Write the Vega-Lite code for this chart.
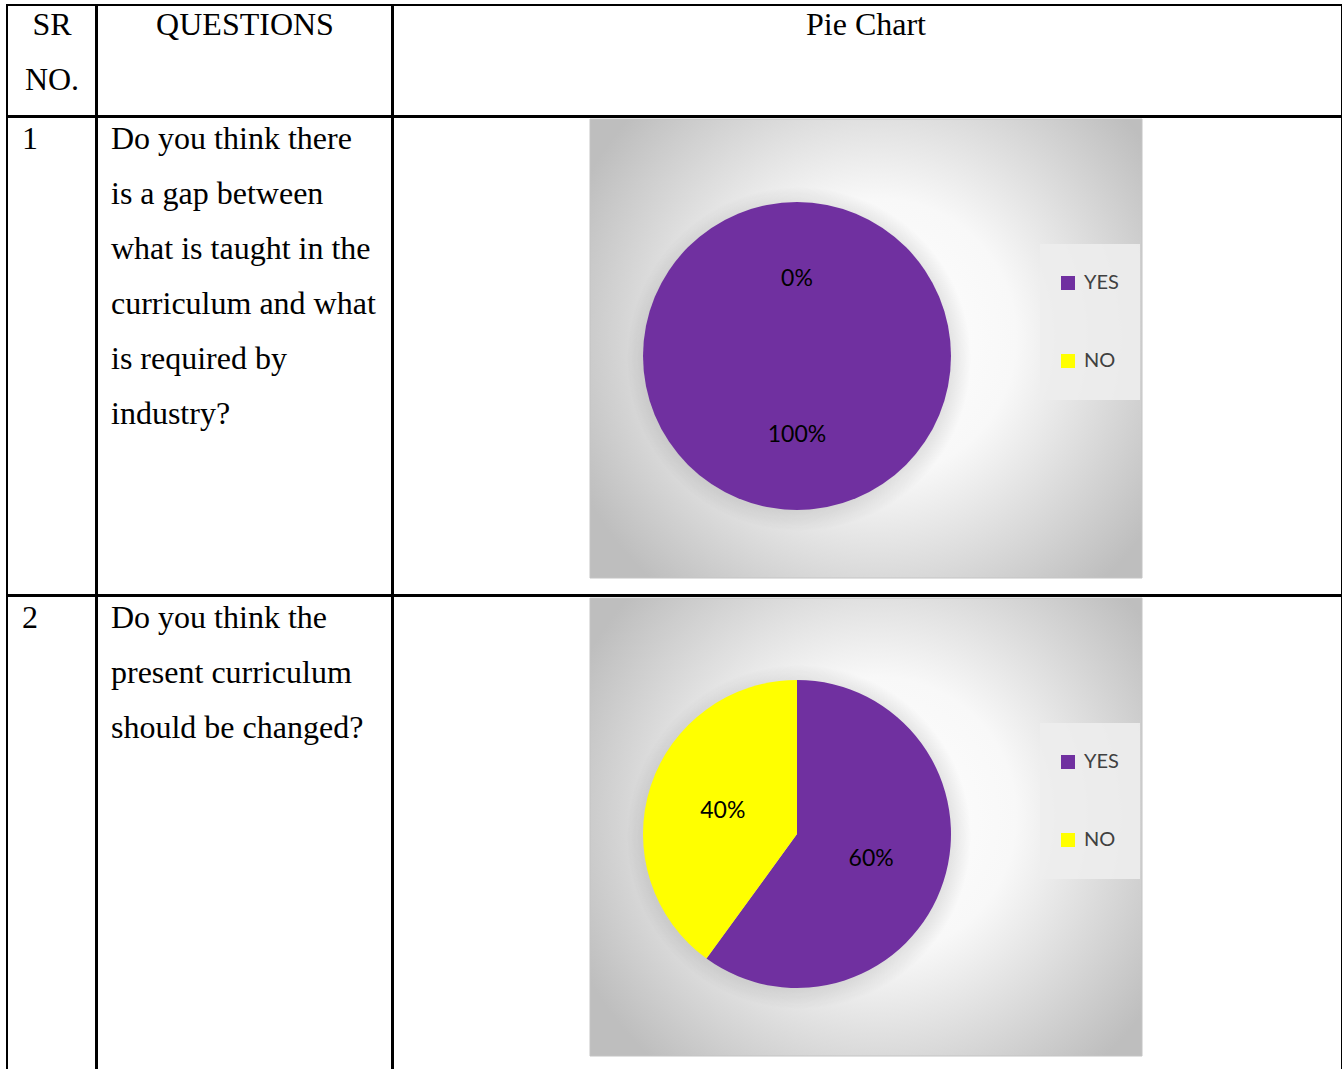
{
  "$schema": "https://vega.github.io/schema/vega-lite/v6.json",
  "padding": {"left": 6, "top": 4, "right": 0, "bottom": 0},
  "background": "white",
  "spacing": -2,
  "resolve": {"scale": {"color": "independent", "theta": "independent"}, "legend": {"color": "independent"}},
  "config": {
    "view": {"stroke": "black", "strokeWidth": 2},
    "concat": {"spacing": -2},
    "text": {"font": "Liberation Serif", "fontSize": 32, "color": "black"}
  },
  "datasets": {
    "table": [
      {"q": 1, "sr": "1", "question": "Do you think there\nis a gap between\nwhat is taught in the\ncurriculum and what\nis required by\nindustry?"},
      {"q": 2, "sr": "2", "question": "Do you think the\npresent curriculum\nshould be changed?"}
    ],
    "answers": [
      {"q": 1, "answer": "YES", "share": 1.0},
      {"q": 1, "answer": "NO", "share": 0.0},
      {"q": 2, "answer": "YES", "share": 0.6},
      {"q": 2, "answer": "NO", "share": 0.4}
    ]
  },
  "vconcat": [
    {
      "spacing": -2,
      "hconcat": [
        {
          "width": 89, "height": 111,
          "view": {"stroke": "black", "strokeWidth": 2},
          "data": {"values": [{"header": "SR\nNO."}]},
          "mark": {"type": "text", "align": "center", "baseline": "alphabetic", "x": 45, "y": 30, "lineHeight": 55, "lineBreak": "\n"},
          "encoding": {"text": {"field": "header"}}
        },
        {
          "width": 295, "height": 111,
          "view": {"stroke": "black", "strokeWidth": 2},
          "data": {"values": [{"header": "QUESTIONS"}]},
          "mark": {"type": "text", "align": "center", "baseline": "alphabetic", "x": 148, "y": 30},
          "encoding": {"text": {"field": "header"}}
        },
        {
          "width": 949, "height": 111,
          "view": {"stroke": "black", "strokeWidth": 2},
          "data": {"values": [{"header": "Pie Chart"}]},
          "mark": {"type": "text", "align": "center", "baseline": "alphabetic", "x": 473, "y": 30},
          "encoding": {"text": {"field": "header"}}
        }
      ]
    },
    {
      "spacing": -2,
      "resolve": {"scale": {"color": "independent", "theta": "independent"}, "legend": {"color": "independent"}},
      "hconcat": [
        {
          "width": 89, "height": 478,
          "view": {"stroke": "black", "strokeWidth": 2},
          "data": {"name": "table"},
          "transform": [{"filter": "datum.q == 1"}],
          "mark": {"type": "text", "align": "left", "baseline": "alphabetic", "x": 15, "y": 32},
          "encoding": {"text": {"field": "sr"}}
        },
        {
          "width": 295, "height": 478,
          "view": {"stroke": "black", "strokeWidth": 2},
          "data": {"name": "table"},
          "transform": [{"filter": "datum.q == 1"}],
          "mark": {"type": "text", "align": "left", "baseline": "alphabetic", "x": 14, "y": 32, "lineHeight": 55, "lineBreak": "\n"},
          "encoding": {"text": {"field": "question"}}
        },
        {
          "width": 949, "height": 478,
          "view": {"stroke": "black", "strokeWidth": 2},
          "layer": [
            {
              "data": {"values": [{"panel": "chart area"}]},
              "mark": {"type": "rect", "x": 197, "x2": 749, "y": 2, "y2": 461, "stroke": "#c4c4c4", "strokeWidth": 1,
                "fill": {"gradient": "radial", "x1": 0.52, "y1": 0.48, "r1": 0, "x2": 0.52, "y2": 0.48, "r2": 0.6,
                  "stops": [{"offset": 0, "color": "#ffffff"}, {"offset": 0.42, "color": "#f8f8f8"}, {"offset": 1, "color": "#bebebe"}]}},
              "encoding": {}
            },
            {
              "data": {"values": [{"panel": "legend area"}]},
              "mark": {"type": "rect", "x": 647, "x2": 747, "y": 127, "y2": 283, "fill": "#ededed", "opacity": 0.9},
              "encoding": {}
            },
            {
              "data": {"values": [{"panel": "pie shadow"}]},
              "mark": {"type": "arc", "x": 406, "y": 242, "outerRadius": 172, "theta": 0, "theta2": 6.2832,
                "fill": {"gradient": "radial", "x1": 0.5, "y1": 0.5, "r1": 0, "x2": 0.5, "y2": 0.5, "r2": 0.5,
                  "stops": [{"offset": 0.8, "color": "rgba(0,0,0,0.16)"}, {"offset": 1, "color": "rgba(0,0,0,0)"}]}},
              "encoding": {}
            },
            {
              "data": {"name": "answers"},
              "transform": [{"filter": "datum.q == 1"}],
              "mark": {"type": "arc", "x": 404, "y": 239, "outerRadius": 154},
              "encoding": {
                "theta": {"field": "share", "type": "quantitative", "stack": true},
                "order": {"field": "answer", "sort": "descending"},
                "color": {
                  "field": "answer", "type": "nominal",
                  "scale": {"domain": ["YES", "NO"], "range": ["#7030A0", "#FFFF00"]},
                  "legend": {"orient": "none", "legendX": 665, "legendY": 156, "title": null, "symbolType": "square", "symbolSize": 196,
                    "symbolStrokeWidth": 0, "symbolOpacity": 1, "labelFont": "Lato", "labelFontSize": 20, "labelColor": "#404040",
                    "rowPadding": 58, "padding": 0, "labelOffset": 6}
                }
              }
            },
            {
              "data": {"name": "answers"},
              "transform": [{"filter": "datum.q == 1"}],
              "mark": {"type": "text", "x": 404, "y": 240, "radius": 78, "font": "Lato", "fontSize": 23, "align": "center", "baseline": "middle", "color": "black"},
              "encoding": {
                "theta": {"field": "share", "type": "quantitative", "stack": true},
                "order": {"field": "answer", "sort": "descending"},
                "text": {"field": "share", "type": "quantitative", "format": ".0%"}
              }
            }
          ]
        }
      ]
    },
    {
      "spacing": -2,
      "resolve": {"scale": {"color": "independent", "theta": "independent"}, "legend": {"color": "independent"}},
      "hconcat": [
        {
          "width": 89, "height": 480,
          "view": {"stroke": "black", "strokeWidth": 2},
          "data": {"name": "table"},
          "transform": [{"filter": "datum.q == 2"}],
          "mark": {"type": "text", "align": "left", "baseline": "alphabetic", "x": 15, "y": 32},
          "encoding": {"text": {"field": "sr"}}
        },
        {
          "width": 295, "height": 480,
          "view": {"stroke": "black", "strokeWidth": 2},
          "data": {"name": "table"},
          "transform": [{"filter": "datum.q == 2"}],
          "mark": {"type": "text", "align": "left", "baseline": "alphabetic", "x": 14, "y": 32, "lineHeight": 55, "lineBreak": "\n"},
          "encoding": {"text": {"field": "question"}}
        },
        {
          "width": 949, "height": 480,
          "view": {"stroke": "black", "strokeWidth": 2},
          "layer": [
            {
              "data": {"values": [{"panel": "chart area"}]},
              "mark": {"type": "rect", "x": 197, "x2": 749, "y": 2, "y2": 460, "stroke": "#c4c4c4", "strokeWidth": 1,
                "fill": {"gradient": "radial", "x1": 0.52, "y1": 0.48, "r1": 0, "x2": 0.52, "y2": 0.48, "r2": 0.6,
                  "stops": [{"offset": 0, "color": "#ffffff"}, {"offset": 0.42, "color": "#f8f8f8"}, {"offset": 1, "color": "#bebebe"}]}},
              "encoding": {}
            },
            {
              "data": {"values": [{"panel": "legend area"}]},
              "mark": {"type": "rect", "x": 647, "x2": 747, "y": 127, "y2": 283, "fill": "#ededed", "opacity": 0.9},
              "encoding": {}
            },
            {
              "data": {"values": [{"panel": "pie shadow"}]},
              "mark": {"type": "arc", "x": 406, "y": 241, "outerRadius": 172, "theta": 0, "theta2": 6.2832,
                "fill": {"gradient": "radial", "x1": 0.5, "y1": 0.5, "r1": 0, "x2": 0.5, "y2": 0.5, "r2": 0.5,
                  "stops": [{"offset": 0.8, "color": "rgba(0,0,0,0.16)"}, {"offset": 1, "color": "rgba(0,0,0,0)"}]}},
              "encoding": {}
            },
            {
              "data": {"name": "answers"},
              "transform": [{"filter": "datum.q == 2"}],
              "mark": {"type": "arc", "x": 404, "y": 238, "outerRadius": 154},
              "encoding": {
                "theta": {"field": "share", "type": "quantitative", "stack": true},
                "order": {"field": "answer", "sort": "descending"},
                "color": {
                  "field": "answer", "type": "nominal",
                  "scale": {"domain": ["YES", "NO"], "range": ["#7030A0", "#FFFF00"]},
                  "legend": {"orient": "none", "legendX": 665, "legendY": 156, "title": null, "symbolType": "square", "symbolSize": 196,
                    "symbolStrokeWidth": 0, "symbolOpacity": 1, "labelFont": "Lato", "labelFontSize": 20, "labelColor": "#404040",
                    "rowPadding": 58, "padding": 0, "labelOffset": 6}
                }
              }
            },
            {
              "data": {"name": "answers"},
              "transform": [{"filter": "datum.q == 2"}],
              "mark": {"type": "text", "x": 404, "y": 239, "radius": 78, "font": "Lato", "fontSize": 23, "align": "center", "baseline": "middle", "color": "black"},
              "encoding": {
                "theta": {"field": "share", "type": "quantitative", "stack": true},
                "order": {"field": "answer", "sort": "descending"},
                "text": {"field": "share", "type": "quantitative", "format": ".0%"}
              }
            }
          ]
        }
      ]
    }
  ]
}
